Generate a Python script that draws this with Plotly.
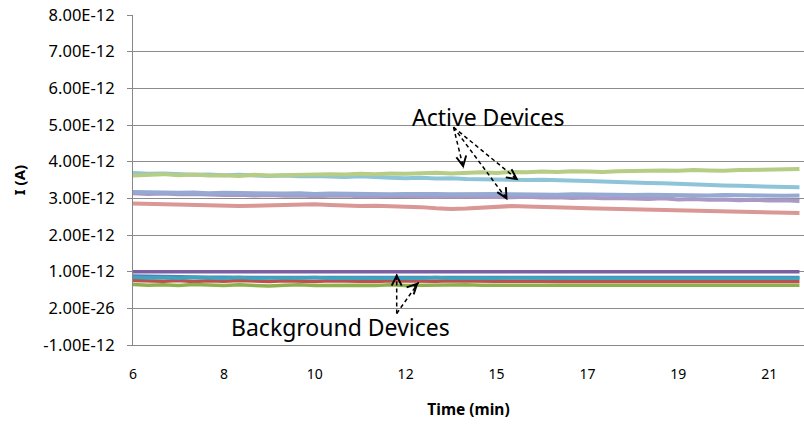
import numpy as np
import plotly.graph_objects as go

# x: sample index (category axis), labelled every 6 samples
tick_idx = [0, 6, 12, 18, 24, 30, 36, 42]
tick_labels = ["6", "8", "10", "12", "15", "17", "19", "21"]

y_tickvals_pA = [-1, 0, 1, 2, 3, 4, 5, 6, 7, 8]
y_ticktext = ["-1.00E-12", "2.00E-26", "1.00E-12", "2.00E-12", "3.00E-12",
              "4.00E-12", "5.00E-12", "6.00E-12", "7.00E-12", "8.00E-12"]

# Active devices (pA)
green_a = [3.62,3.64,3.66,3.63,3.65,3.62,3.63,3.61,3.64,3.62,3.63,3.65,3.64,3.66,3.65,3.67,3.66,3.68,3.67,3.69,3.70,3.68,3.70,3.71,3.69,3.72,3.71,3.73,3.72,3.74,3.73,3.72,3.74,3.75,3.74,3.76,3.75,3.77,3.76,3.75,3.77,3.78,3.77,3.79,3.80]
cyan_a = [3.69,3.67,3.68,3.66,3.64,3.65,3.63,3.64,3.62,3.61,3.62,3.60,3.61,3.59,3.58,3.60,3.57,3.56,3.55,3.56,3.54,3.55,3.53,3.52,3.53,3.51,3.50,3.51,3.49,3.48,3.47,3.46,3.44,3.43,3.42,3.41,3.39,3.38,3.36,3.35,3.34,3.33,3.32,3.31,3.30]
blue_a = [3.17,3.16,3.17,3.15,3.16,3.14,3.15,3.14,3.13,3.14,3.13,3.14,3.12,3.13,3.12,3.13,3.12,3.11,3.12,3.13,3.12,3.11,3.12,3.11,3.12,3.11,3.10,3.11,3.10,3.11,3.10,3.09,3.10,3.09,3.10,3.09,3.08,3.09,3.08,3.09,3.08,3.07,3.08,3.07,3.08]
purple_a = [3.14,3.12,3.13,3.11,3.12,3.10,3.09,3.10,3.08,3.09,3.07,3.08,3.06,3.07,3.08,3.06,3.05,3.07,3.06,3.05,3.04,3.06,3.05,3.04,3.05,3.03,3.04,3.02,3.03,3.01,3.02,3.00,3.01,2.99,2.98,3.00,2.97,2.98,2.96,2.97,2.95,2.96,2.94,2.95,2.93]
red_a = [2.86,2.85,2.84,2.82,2.80,2.79,2.80,2.79,2.80,2.81,2.80,2.82,2.84,2.82,2.80,2.79,2.80,2.79,2.78,2.76,2.73,2.71,2.72,2.74,2.77,2.79,2.78,2.76,2.75,2.74,2.73,2.72,2.71,2.70,2.69,2.68,2.67,2.66,2.65,2.66,2.64,2.63,2.62,2.61,2.60]

# Background devices (pA)
blue_b = [0.88,0.87,0.86,0.86,0.85,0.85,0.85,0.84,0.85,0.84,0.84,0.84,0.84,0.84,0.84,0.84,0.84,0.84,0.84,0.84,0.84,0.84,0.84,0.84,0.84,0.84,0.84,0.84,0.84,0.84,0.84,0.84,0.84,0.84,0.84,0.84,0.84,0.84,0.84,0.84,0.84,0.84,0.84,0.84,0.84]
purple_b = [1.00,1.00,1.01,1.00,1.00,1.02,1.01,1.00,1.01,1.00,1.00,1.01,1.00,1.00,1.00,1.00,1.00,1.01,1.00,1.00,1.00,1.00,1.00,1.00,1.01,1.00,1.00,1.01,1.01,1.02,1.00,1.00,1.00,1.00,1.00,1.01,1.00,1.00,1.00,1.00,1.00,1.00,1.00,1.00,1.00]
cyan_b = [0.85,0.83,0.84,0.82,0.84,0.83,0.82,0.84,0.82,0.83,0.82,0.83,0.84,0.82,0.83,0.82,0.82,0.83,0.82,0.82,0.84,0.82,0.83,0.82,0.82,0.83,0.82,0.82,0.82,0.83,0.82,0.82,0.82,0.82,0.82,0.82,0.82,0.82,0.82,0.82,0.82,0.82,0.82,0.83,0.82]
red_b = [0.76,0.75,0.74,0.76,0.73,0.75,0.74,0.76,0.74,0.73,0.75,0.74,0.73,0.75,0.74,0.74,0.73,0.75,0.74,0.73,0.74,0.75,0.74,0.73,0.74,0.74,0.75,0.74,0.73,0.74,0.74,0.73,0.74,0.74,0.74,0.73,0.74,0.74,0.73,0.74,0.73,0.74,0.73,0.74,0.73]
green_b = [0.65,0.63,0.64,0.62,0.65,0.63,0.62,0.64,0.63,0.61,0.63,0.64,0.62,0.63,0.62,0.63,0.62,0.64,0.62,0.63,0.62,0.63,0.64,0.63,0.63,0.63,0.63,0.63,0.63,0.63,0.63,0.63,0.63,0.63,0.63,0.62,0.63,0.63,0.63,0.63,0.63,0.63,0.63,0.63,0.63]

PA = 1e-12
x = np.arange(len(green_a))

series = [
    (blue_b, "#4F81BD", 3.5),
    (red_b, "#C0504D", 3.5),
    (green_b, "#8DB04E", 3.5),
    (purple_b, "#7B5FA0", 3.5),
    (cyan_b, "#3FA5BF", 3.5),
    (red_a, "#D99795", 4),
    (purple_a, "#A89AC5", 4),
    (blue_a, "#95A9D3", 4),
    (cyan_a, "#8EC4D7", 4),
    (green_a, "#B5CD85", 4),
]

fig = go.Figure()
for vals, col, w in series:
    fig.add_trace(go.Scatter(x=x, y=np.array(vals) * PA, mode="lines",
                             line=dict(color=col, width=w), showlegend=False,
                             hoverinfo="skip"))

FONT = "Noto Sans"

def arrow(x0, y0, x1, y1, ax, ay):
    fig.add_shape(type="line", xref="x", yref="y", x0=x0, y0=y0 * PA, x1=x1, y1=y1 * PA,
                  line=dict(color="black", width=1.5, dash="4px,3px"))
    fig.add_annotation(x=x1, y=y1 * PA, xref="x", yref="y", ax=ax, ay=ay,
                       showarrow=True, arrowhead=5, arrowsize=1.3, arrowwidth=1.5,
                       arrowcolor="black", text="")

# Active device arrows
arrow(21.16, 4.94, 21.82, 3.82, -1.5, -8)
arrow(21.16, 4.94, 25.45, 3.49, -7, -5)
arrow(21.16, 4.94, 24.73, 2.95, -4, -7)
# Background device arrows
arrow(17.41, -0.14, 17.41, 0.95, 0, 8)
arrow(17.41, -0.14, 18.86, 0.71, -6, 6)

fig.add_annotation(x=23.47, y=5.21 * PA, xref="x", yref="y", text="Active Devices",
                   showarrow=False, font=dict(family=FONT, size=23, color="black"))
fig.add_annotation(x=13.71, y=-0.52 * PA, xref="x", yref="y", text="Background Devices",
                   showarrow=False, font=dict(family=FONT, size=23, color="black"))

fig.update_layout(
    width=804, height=424,
    margin=dict(l=133, r=0, t=15, b=79),
    paper_bgcolor="white", plot_bgcolor="white",
    font=dict(family=FONT, size=14, color="black"),
)
fig.update_xaxes(
    range=[0, 44.3], tickmode="array", tickvals=tick_idx, ticktext=tick_labels,
    showgrid=False, zeroline=False, showline=True, linecolor="#878787", linewidth=1,
    ticks="", tickfont=dict(family=FONT, size=14), ticklabelstandoff=16,
    title=dict(text="<b>Time (min)</b>", font=dict(family=FONT, size=15.5), standoff=22),
)
fig.update_yaxes(
    range=[-1 * PA, 8 * PA], tickmode="array",
    tickvals=[v * PA for v in y_tickvals_pA], ticktext=y_ticktext,
    showgrid=True, gridcolor="#8C8C8C", gridwidth=1, zeroline=False,
    showline=True, linecolor="#878787", linewidth=1,
    ticks="outside", ticklen=5, tickcolor="#878787",
    tickfont=dict(family=FONT, size=16.5), ticklabelstandoff=9,
    title=dict(text="<b>I (A)</b>", font=dict(family=FONT, size=15), standoff=14),
)

fig.write_html("out.html", config={"displayModeBar": False},
               post_script="document.body.style.margin='0';")
